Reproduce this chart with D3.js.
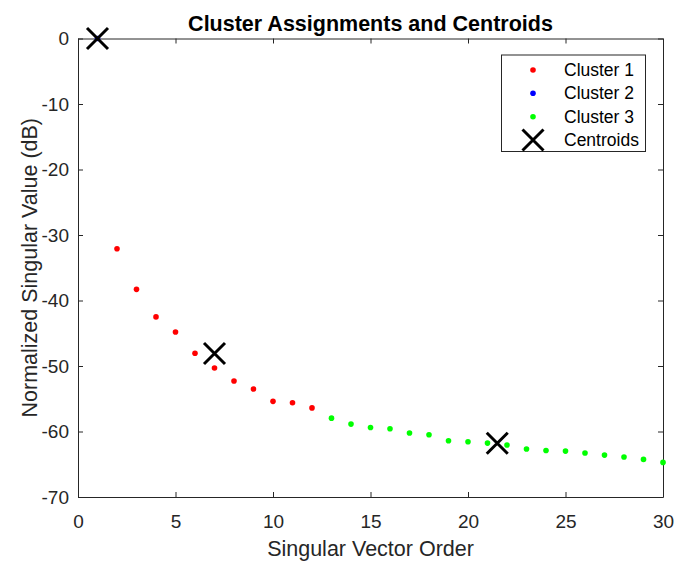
<!DOCTYPE html>
<html>
<head>
<meta charset="utf-8">
<script src="https://cdn.jsdelivr.net/npm/d3@7"></script>
<style>
  body { margin: 0; background: #fff; }
  svg { display: block; font-family: "Liberation Sans", Arial, Helvetica, sans-serif; }
</style>
</head>
<body>
<svg id="chart" width="675" height="562"></svg>
<script>
// Singular vector order (1..30) and normalized singular values in dB
const order = d3.range(1, 31);
const singularDb = [
  0, -32.1, -38.3, -42.5, -44.8, -48.05, -50.3, -52.3, -53.5, -55.4,
  -55.6, -56.4, -57.96, -58.87, -59.38, -59.58, -60.24, -60.5, -61.41, -61.57,
  -61.77, -62.07, -62.68, -62.89, -62.99, -63.29, -63.6, -63.9, -64.26, -64.72
];
// k-means labels per point (1, 2 or 3)
const clusterLabel = [
  2, 1, 1, 1, 1, 1, 1, 1, 1, 1,
  1, 1, 3, 3, 3, 3, 3, 3, 3, 3,
  3, 3, 3, 3, 3, 3, 3, 3, 3, 3
];
const centroidX = [1, 7, 21.5];
const centroidY = [0, -48.1, -61.8];

const clusterNames = ["Cluster 1", "Cluster 2", "Cluster 3"];
const clusterColors = ["#ff0000", "#0000ff", "#00ff00"];
const xTicks = [0, 5, 10, 15, 20, 25, 30];
const yTicks = [0, -10, -20, -30, -40, -50, -60, -70];

const svg = d3.select("#chart");
const margin = { left: 78, right: 12, top: 38.5, bottom: 65 };
const W = 675, H = 562;
const axisColor = "#262626";
const tickFont = 19;

const x = d3.scaleLinear().domain([0, 30]).range([margin.left, W - margin.right]);
const y = d3.scaleLinear().domain([-70, 0]).range([H - margin.bottom, margin.top]);

const x0 = x.range()[0], x1 = x.range()[1];
const y0 = y.range()[0], y1 = y.range()[1];

// plain hyphen for negatives
const fmt = d => String(d);

// Axes: inward ticks on all four sides (boxed axes)
const tickLen = 5;
const axBottom = svg.append("g").attr("transform", `translate(0,${y0})`)
  .call(d3.axisBottom(x).tickValues(xTicks).tickSizeInner(-tickLen).tickSizeOuter(0).tickFormat(fmt));
const axTop = svg.append("g").attr("transform", `translate(0,${y1})`)
  .call(d3.axisTop(x).tickValues(xTicks).tickSizeInner(-tickLen).tickSizeOuter(0).tickFormat(""));
const axLeft = svg.append("g").attr("transform", `translate(${x0},0)`)
  .call(d3.axisLeft(y).tickValues(yTicks).tickSizeInner(-tickLen).tickSizeOuter(0).tickPadding(9).tickFormat(fmt));
const axRight = svg.append("g").attr("transform", `translate(${x1},0)`)
  .call(d3.axisRight(y).tickValues(yTicks).tickSizeInner(-tickLen).tickSizeOuter(0).tickFormat(""));

[axBottom, axTop, axLeft, axRight].forEach(g => {
  g.select(".domain").attr("stroke", axisColor).attr("stroke-width", 1);
  g.selectAll(".tick line").attr("stroke", axisColor).attr("stroke-width", 1);
  g.selectAll(".tick text").attr("fill", axisColor).attr("font-size", tickFont)
    .attr("font-family", "Liberation Sans, Arial, sans-serif");
});
axBottom.selectAll(".tick text").attr("y", 31).attr("dy", null);

// Data points colored by cluster
const pts = order.map((o, i) => ({ o, v: singularDb[i], c: clusterLabel[i] }));
svg.append("g").selectAll("circle").data(pts).join("circle")
  .attr("cx", d => x(d.o)).attr("cy", d => y(d.v)).attr("r", 2.8)
  .attr("fill", d => clusterColors[d.c - 1]);

// Centroid crosses
function cross(g, cx, cy, s) {
  g.append("path")
    .attr("d", `M${cx - s},${cy - s}L${cx + s},${cy + s}M${cx - s},${cy + s}L${cx + s},${cy - s}`)
    .attr("stroke", "#000").attr("stroke-width", 3).attr("fill", "none");
}
const cg = svg.append("g");
centroidX.forEach((cx, i) => cross(cg, x(cx), y(centroidY[i]), 10.5));

// Title and axis labels
svg.append("text").attr("x", (x0 + x1) / 2).attr("y", 31).attr("text-anchor", "middle")
  .attr("font-weight", "bold").attr("font-size", 21.5).attr("fill", "#000")
  .text("Cluster Assignments and Centroids");
svg.append("text").attr("x", (x0 + x1) / 2).attr("y", 556).attr("text-anchor", "middle")
  .attr("font-size", 21.5).attr("fill", axisColor).text("Singular Vector Order");
svg.append("text").attr("transform", `translate(37,${(y0 + y1) / 2}) rotate(-90)`)
  .attr("text-anchor", "middle").attr("font-size", 21.5).attr("fill", axisColor)
  .text("Normalized Singular Value (dB)");

// Legend
const lg = svg.append("g");
lg.append("rect").attr("x", 501.5).attr("y", 55).attr("width", 144).attr("height", 96.5)
  .attr("fill", "#fff").attr("stroke", axisColor).attr("stroke-width", 1);
const rowY = [70, 93.3, 116.7, 140];
clusterNames.forEach((n, i) => {
  lg.append("circle").attr("cx", 533).attr("cy", rowY[i]).attr("r", 2.8).attr("fill", clusterColors[i]);
  lg.append("text").attr("x", 564).attr("y", rowY[i]).attr("dy", "0.35em")
    .attr("font-size", 17.5).attr("fill", "#000").text(n);
});
cross(lg, 533, rowY[3], 10.5);
lg.append("text").attr("x", 564).attr("y", rowY[3]).attr("dy", "0.35em")
  .attr("font-size", 17.5).attr("fill", "#000").text("Centroids");
</script>
</body>
</html>
